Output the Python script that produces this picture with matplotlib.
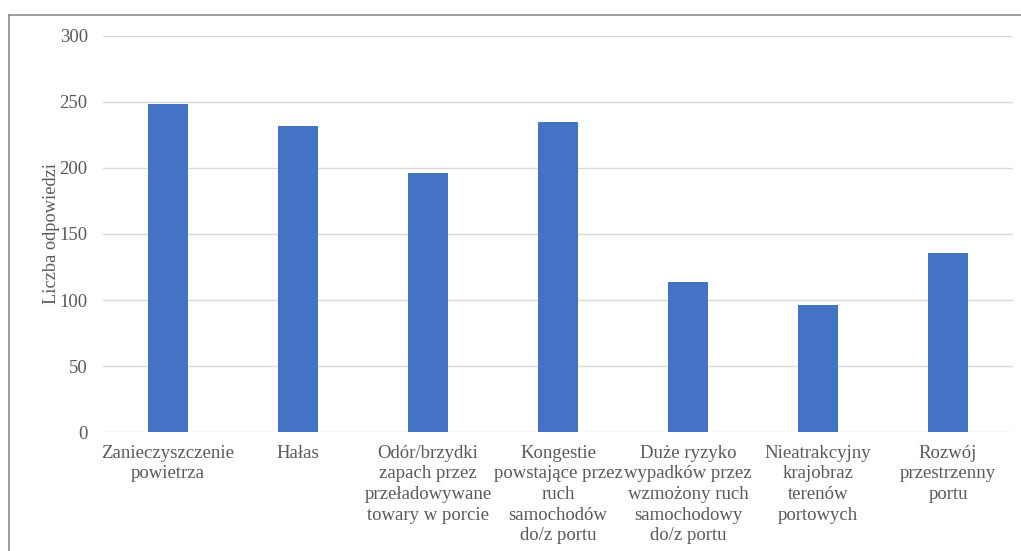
import matplotlib
matplotlib.use("Agg")
import matplotlib.pyplot as plt
from matplotlib.lines import Line2D

categories = [
    "Zanieczyszczenie\npowietrza",
    "Hałas",
    "Odór/brzydki\nzapach przez\nprzeładowywane\ntowary w porcie",
    "Kongestie\npowstające przez\nruch\nsamochodów\ndo/z portu",
    "Duże ryzyko\nwypadków przez\nwzmożony ruch\nsamochodowy\ndo/z portu",
    "Nieatrakcyjny\nkrajobraz\nterenów\nportowych",
    "Rozwój\nprzestrzenny\nportu",
]
values = [248, 232, 196, 235, 114, 96, 136]
y_ticks = [0, 50, 100, 150, 200, 250, 300]

text_color = "#595959"
plt.rcParams["font.family"] = ["Liberation Serif", "DejaVu Serif"]

W, H = 1021, 551
fig = plt.figure(figsize=(W / 100, H / 100), dpi=100)
ax = fig.add_axes([103 / W, 1 - 432.3 / H, (1013 - 103) / W, (432.3 - 35.7) / H])

x = range(len(categories))
ax.bar(x, values, width=0.31, color="#4472C4", zorder=3)

ax.set_xlim(-0.5, len(categories) - 0.5)
ax.set_ylim(0, 300)
ax.set_yticks(y_ticks)
ax.set_xticks(list(x))
ax.set_xticklabels(categories, fontsize=13.5, color=text_color, linespacing=1.28)
ax.tick_params(axis="y", labelsize=13.5, labelcolor=text_color, length=0, pad=11)
ax.tick_params(axis="x", length=0, pad=9)
ax.grid(axis="y", color="#d9d9d9", linewidth=1, zorder=0)
for s in ax.spines.values():
    s.set_visible(False)

ax.set_ylabel("Liczba odpowiedzi", fontsize=13.2, color=text_color, labelpad=0)

# outer frame (left and top edges)
fig.add_artist(Line2D([8.5 / W, 8.5 / W], [0, 1 - 14.5 / H], transform=fig.transFigure,
                      color="#8c8c8c", linewidth=1.2))
fig.add_artist(Line2D([8.5 / W, 1.0], [1 - 14.5 / H, 1 - 14.5 / H], transform=fig.transFigure,
                      color="#8c8c8c", linewidth=1.2))

fig.savefig("out.png", dpi=100, facecolor="white")
